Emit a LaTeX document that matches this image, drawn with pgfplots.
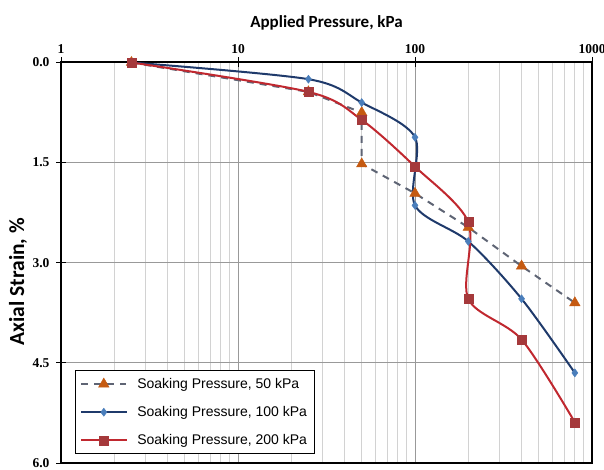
\documentclass[border=0pt]{standalone}
\usepackage{fontspec}
\setmainfont{Liberation Serif}
\newfontfamily\labelfont{Carlito}
\newfontfamily\legendfont{Liberation Sans}
\usepackage{pgfplots}
\pgfplotsset{compat=1.18}

\definecolor{dashgrey}{HTML}{5E6474}
\definecolor{triorange}{HTML}{C55A11}
\definecolor{navyline}{HTML}{1F3A6B}
\definecolor{diablue}{HTML}{4A7EBB}
\definecolor{redline}{HTML}{C0282F}
\definecolor{sqred}{HTML}{A5393B}

\newcommand{\legfont}{\legendfont\fontsize{14}{16}\selectfont}

\begin{document}
\begin{tikzpicture}
\useasboundingbox (0,0) rectangle (604pt,470pt);
\begin{axis}[
  at={(61pt,7pt)}, anchor=south west,
  scale only axis,
  width=531pt, height=400.5pt,
  xmode=log,
  xmin=1, xmax=1000,
  ymin=0, ymax=6,
  y dir=reverse,
  xtick={1,10,100,1000},
  xticklabels={1,10,100,1000},
  ytick={0,1.5,3,4.5,6},
  yticklabel style={/pgf/number format/fixed, /pgf/number format/fixed zerofill, /pgf/number format/precision=1, xshift=-3pt},
  /pgf/number format/assume math mode=true,
  xticklabel pos=upper,
  xtick pos=upper,
  ytick pos=left,
  tick align=center,
  major tick length=10pt,
  minor tick length=0pt,
  every tick/.style={black, line width=1pt},
  axis line style={black, line width=2pt},
  grid=both,
  major grid style={gray!80, line width=0.8pt},
  minor grid style={gray!35, line width=0.9pt},
  tick label style={font=\fontsize{13.5}{15}\selectfont\bfseries},
  xlabel={Applied Pressure, kPa},
  ylabel={Axial Strain, \%},
  xlabel style={font=\labelfont\fontsize{17}{19}\selectfont\bfseries, at={(axis description cs:0.5,1)}, anchor=center, yshift=39.5pt},
  ylabel style={font=\labelfont\fontsize{21.5}{23}\selectfont\bfseries, at={(axis description cs:0,0.5)}, anchor=center, yshift=43pt, xshift=-19pt},
  legend cell align=left,
  legend style={at={(axis description cs:0.0264,0.0225)}, anchor=south west,
    draw=black, line width=0.6pt,
    inner xsep=5pt, inner ysep=5.5pt, row sep=12.5pt, fill=white,
    /tikz/every odd column/.append style={column sep=8pt}},
  legend image code/.code={\draw[mark repeat=2,mark phase=2] plot coordinates {(0pt,0pt) (22.5pt,0pt) (45pt,0pt)};},
]
\addplot[dashgrey, line width=2pt, dash pattern=on 7pt off 6pt,
  mark=triangle*, mark size=6pt, mark options={solid, fill=triorange, draw=triorange, line width=0.5pt}]
coordinates {(2.5,0) (25,0.44) (50,0.75) (50,1.52) (100,1.96) (200,2.47) (400,3.05) (800,3.6)};
\addlegendentry{\legfont Soaking Pressure, 50 kPa}
\addplot[navyline, line width=2pt, smooth,
  mark=diamond*, mark size=4pt, mark options={fill=diablue, draw=diablue, line width=0.5pt}]
coordinates {(2.5,0) (25,0.25) (50,0.6) (100,1.12) (100,2.14) (200,2.68) (400,3.54) (800,4.65)};
\addlegendentry{\legfont Soaking Pressure, 100 kPa}
\addplot[redline, line width=2pt, smooth,
  mark=square*, mark size=4.5pt, mark options={fill=sqred, draw=sqred, line width=0.5pt}]
coordinates {(2.5,0) (25,0.44) (50,0.86) (100,1.56) (200,2.39) (200,3.54) (400,4.15) (800,5.39)};
\addlegendentry{\legfont Soaking Pressure, 200 kPa}
\end{axis}
\end{tikzpicture}
\end{document}
